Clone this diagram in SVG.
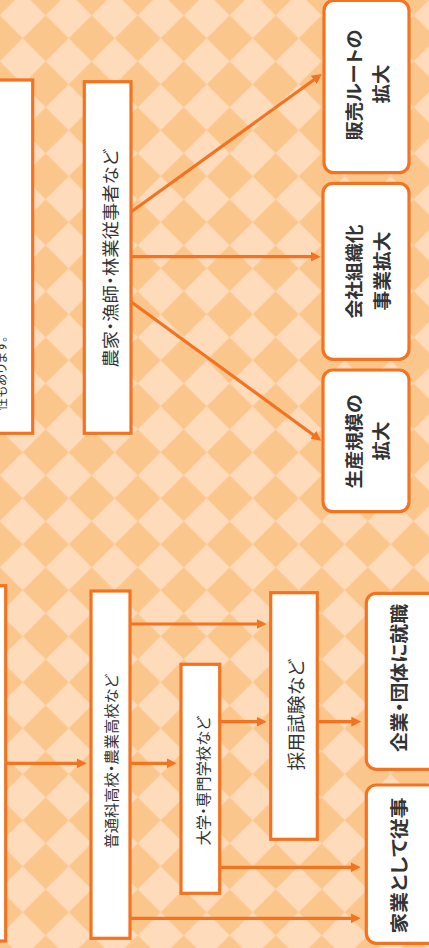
<svg xmlns="http://www.w3.org/2000/svg" width="429" height="948" viewBox="0 0 429 948">
<defs>
<pattern id="bg" width="46" height="46" patternUnits="userSpaceOnUse" patternTransform="translate(22.7,15.3)">
<rect width="46" height="46" fill="#FDDBBB"/>
<polygon points="23,0 46,23 23,46 0,23" fill="#FBC68C"/>
</pattern>
<marker id="ah" viewBox="0 0 10 10" refX="4" refY="5" markerWidth="10" markerHeight="10" markerUnits="userSpaceOnUse" orient="auto"><path d="M0,0L10,5L0,10z" fill="#F37321"/></marker>
<style>
.box{fill:#fff;stroke:#F37321;stroke-width:3.2}
.rbox{fill:#fff;stroke:#F37321;stroke-width:3.2}
.t{font-family:"Noto Sans CJK JP","Noto Sans",sans-serif;fill:#333;text-anchor:middle;dominant-baseline:central;font-feature-settings:"palt"}
.b{font-weight:bold}
.ln{stroke:#F37321;stroke-width:3.2;fill:none;marker-end:url(#ah)}
</style>
</defs>
<rect width="429" height="948" fill="url(#bg)"/>

<g id="connectors">
<line class="ln" x1="131" y1="212" x2="317.1" y2="77.5"/>
<line class="ln" x1="131" y1="256.7" x2="314.7" y2="256.7"/>
<line class="ln" x1="131" y1="301.7" x2="316.5" y2="437.2"/>
<line class="ln" x1="5.7" y1="763.3" x2="80.7" y2="763.3"/>
<line class="ln" x1="130" y1="763.3" x2="170.7" y2="763.3"/>
<line class="ln" x1="130" y1="624" x2="260.7" y2="624"/>
<line class="ln" x1="130" y1="918.3" x2="354.7" y2="918.3"/>
<line class="ln" x1="219.7" y1="721.7" x2="260.7" y2="721.7"/>
<line class="ln" x1="219.7" y1="867.3" x2="354.7" y2="867.3"/>
<line class="ln" x1="317.3" y1="721.7" x2="355.3" y2="721.7"/>
</g>

<g id="box-a">
<rect class="box" x="-20" y="80" width="52.7" height="353.3"/>
<text class="t" style="text-anchor:start;dominant-baseline:alphabetic" font-size="12.5" transform="translate(6,410.5) rotate(-90)">性もあります。</text>
</g>

<g id="box-b">
<rect class="box" x="84.3" y="81.7" width="46.7" height="351.6"/>
<text class="t" font-size="17" textLength="218" lengthAdjust="spacingAndGlyphs" transform="translate(109,258.5) rotate(-90)">農家・漁師・林業従事者など</text>
</g>

<g id="box-c">
<rect class="box" x="-20" y="585.7" width="25.7" height="355.3"/>
</g>

<g id="box-d">
<rect class="box" x="91" y="591" width="39" height="347.3"/>
<text class="t" font-size="15" textLength="174" lengthAdjust="spacingAndGlyphs" transform="translate(110.7,761.5) rotate(-90)">普通科高校・農業高校など</text>
</g>

<g id="box-e">
<rect class="box" x="181" y="664.3" width="38.7" height="229"/>
<text class="t" font-size="15" textLength="129" lengthAdjust="spacingAndGlyphs" transform="translate(202.5,781) rotate(-90)">大学・専門学校など</text>
</g>

<g id="box-f">
<rect class="box" x="270.7" y="592.7" width="46.6" height="246.6"/>
<text class="t" font-size="18" textLength="111" lengthAdjust="spacingAndGlyphs" transform="translate(295,715) rotate(-90)">採用試験など</text>
</g>

<g id="box-hanbai">
<rect class="rbox" x="324" y="0.5" width="85" height="172.2" rx="10"/>
<text class="t b" font-size="18" textLength="111" lengthAdjust="spacingAndGlyphs" transform="translate(352.5,85) rotate(-90)">販売ルートの</text>
<text class="t b" font-size="18" textLength="39" lengthAdjust="spacingAndGlyphs" transform="translate(379.5,84) rotate(-90)">拡大</text>
</g>

<g id="box-kaisha">
<rect class="rbox" x="323" y="183.3" width="86" height="176" rx="10"/>
<text class="t b" font-size="18" textLength="94" lengthAdjust="spacingAndGlyphs" transform="translate(352.5,271.5) rotate(-90)">会社組織化</text>
<text class="t b" font-size="18" textLength="79" lengthAdjust="spacingAndGlyphs" transform="translate(380.5,271) rotate(-90)">事業拡大</text>
</g>

<g id="box-seisan">
<rect class="rbox" x="323" y="370" width="86" height="141.7" rx="10"/>
<text class="t b" font-size="18" textLength="94" lengthAdjust="spacingAndGlyphs" transform="translate(352.5,441.5) rotate(-90)">生産規模の</text>
<text class="t b" font-size="18" textLength="39" lengthAdjust="spacingAndGlyphs" transform="translate(379.5,441) rotate(-90)">拡大</text>
</g>

<g id="box-kigyo">
<rect class="rbox" x="366.3" y="593.3" width="90" height="176" rx="10"/>
<text class="t b" font-size="18.5" textLength="148" lengthAdjust="spacingAndGlyphs" transform="translate(398,678) rotate(-90)">企業・団体に就職</text>
</g>

<g id="box-kagyo">
<rect class="rbox" x="366.3" y="785" width="90" height="158.3" rx="10"/>
<text class="t b" font-size="18.5" textLength="136" lengthAdjust="spacingAndGlyphs" transform="translate(398,865.5) rotate(-90)">家業として従事</text>
</g>
</svg>
